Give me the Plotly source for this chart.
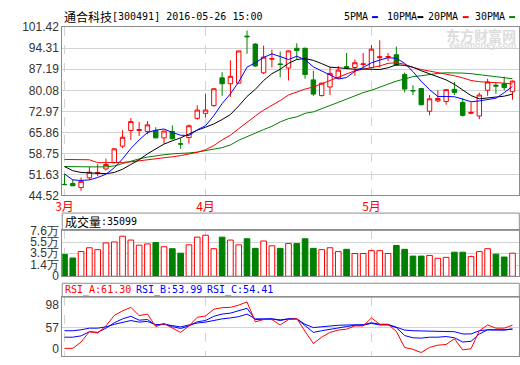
import plotly.graph_objects as go

# ---------------- data ----------------
dates = [
    "2016-03-09", "2016-03-10", "2016-03-11", "2016-03-14", "2016-03-15", "2016-03-16", "2016-03-17",
    "2016-03-18", "2016-03-21", "2016-03-22", "2016-03-23", "2016-03-24", "2016-03-25", "2016-03-28",
    "2016-03-29", "2016-03-30", "2016-03-31",
    "2016-04-01", "2016-04-05", "2016-04-06", "2016-04-07", "2016-04-08", "2016-04-11", "2016-04-12",
    "2016-04-13", "2016-04-14", "2016-04-15", "2016-04-18", "2016-04-19", "2016-04-20", "2016-04-21",
    "2016-04-22", "2016-04-25", "2016-04-26", "2016-04-27", "2016-04-28", "2016-04-29",
    "2016-05-03", "2016-05-04", "2016-05-05", "2016-05-06", "2016-05-09", "2016-05-10", "2016-05-11",
    "2016-05-12", "2016-05-13", "2016-05-16", "2016-05-17", "2016-05-18", "2016-05-19", "2016-05-20",
    "2016-05-23", "2016-05-24", "2016-05-25", "2016-05-26",
]
open_ = [48.3, 48.6, 47.2, 50.5, 52.0, 53.5, 55.6, 61.2, 66.5, 66.5, 66.2, 66.5, 64.0, 66.2, 62.0,
         64.1, 70.6, 72.3, 74.9, 84.3, 82.3, 82.5, 98.4, 95.7, 86.0, 90.6, 89.0, 87.6, 94.3, 94.3,
         83.6, 78.3, 81.2, 84.3, 88.1, 87.8, 88.8, 87.8, 91.1, 91.3, 92.1, 85.4, 80.0, 80.7, 73.0,
         76.5, 76.3, 80.4, 76.0, 72.3, 71.4, 80.1, 81.8, 82.3, 79.6]
high = [51.8, 49.9, 50.6, 54.2, 55.1, 57.0, 60.5, 66.6, 70.7, 69.4, 69.7, 67.6, 66.4, 68.2, 63.8,
        68.5, 75.0, 79.0, 80.8, 86.2, 90.2, 93.4, 100.3, 96.0, 95.2, 93.8, 93.2, 93.5, 96.0, 94.5,
        86.7, 82.6, 88.0, 88.3, 92.7, 90.5, 92.7, 95.4, 97.0, 92.7, 94.9, 86.1, 81.8, 80.9, 78.5,
        80.1, 80.5, 82.9, 77.4, 76.0, 79.3, 84.0, 82.8, 84.7, 83.4]
low = [48.0, 47.7, 46.1, 49.9, 51.0, 53.0, 55.3, 60.5, 63.3, 64.6, 65.2, 63.9, 62.0, 63.4, 60.3,
       62.1, 70.1, 70.9, 74.5, 78.2, 77.8, 82.4, 92.4, 88.0, 85.6, 87.8, 84.5, 83.4, 90.5, 84.0,
       78.2, 78.0, 78.5, 84.0, 87.2, 85.0, 87.8, 87.7, 87.8, 90.0, 88.3, 79.4, 78.5, 75.0, 71.6,
       76.0, 75.2, 78.5, 71.2, 72.0, 70.3, 78.2, 78.9, 80.1, 76.9]
close = [48.2, 47.8, 49.3, 52.4, 52.3, 55.0, 60.3, 64.2, 69.5, 66.8, 68.4, 64.0, 66.3, 63.7, 61.9,
         68.1, 73.4, 73.4, 80.6, 82.3, 84.8, 93.4, 98.2, 88.3, 91.3, 90.8, 88.8, 93.4, 93.5, 85.4,
         78.8, 82.5, 85.8, 86.9, 87.8, 89.4, 89.0, 94.0, 91.4, 91.5, 88.6, 80.5, 79.9, 75.2, 77.2,
         77.3, 80.3, 79.3, 71.6, 72.6, 78.5, 82.9, 81.5, 81.0, 83.2]

ma5 = [51.8, 49.8, 49.6, 49.8, 50.6, 51.7, 53.9, 56.9, 60.4, 63.3, 65.8, 66.6, 67.0, 65.8, 64.9,
       64.8, 66.7, 68.1, 71.5, 75.6, 78.9, 82.9, 87.9, 89.4, 91.2, 92.4, 91.5, 90.5, 91.6, 90.4,
       88.0, 86.7, 85.2, 83.9, 84.4, 86.5, 87.8, 89.4, 90.3, 91.1, 90.9, 89.2, 86.4, 83.1, 80.3,
       78.0, 78.0, 77.9, 77.1, 76.2, 76.5, 77.0, 77.4, 79.3, 81.4]
ma10 = [54.3, 52.9, 52.3, 52.1, 52.0, 51.9, 52.3, 53.4, 55.0, 56.6, 58.6, 60.2, 61.9, 63.0, 64.0,
        65.3, 66.6, 67.6, 68.7, 70.2, 71.9, 74.8, 78.0, 80.4, 83.4, 85.7, 87.2, 89.2, 90.5, 90.8,
        90.2, 89.1, 87.9, 87.7, 87.4, 87.2, 87.3, 87.3, 87.1, 87.7, 88.7, 88.5, 87.9, 86.7, 85.7,
        84.5, 83.6, 82.1, 80.1, 78.3, 77.2, 77.5, 77.6, 78.1, 78.8]
ma20 = [56.7, 56.7, 56.7, 56.6, 55.6, 55.6, 55.6, 55.7, 55.9, 56.2, 56.5, 56.9, 57.3, 57.6, 58.0,
        58.6, 59.1, 60.0, 61.4, 63.3, 64.9, 67.1, 69.4, 71.4, 73.4, 74.9, 76.6, 78.5, 79.6, 80.5,
        81.2, 82.3, 83.4, 84.5, 85.6, 86.7, 87.2, 87.8, 88.3, 89.2, 89.4, 88.9, 87.8, 87.1, 86.6,
        86.0, 85.6, 85.0, 84.3, 83.4, 83.0, 82.9, 82.6, 82.5, 82.2]
ma30 = [54.3, 54.2, 54.2, 54.2, 54.2, 54.2, 54.5, 55.3, 56.2, 56.9, 57.5, 58.0, 58.3, 58.6, 58.7,
        58.9, 59.2, 59.6, 60.2, 60.7, 61.6, 63.2, 64.3, 65.6, 66.8, 67.9, 69.4, 70.5, 71.1, 72.3,
        72.8, 73.8, 74.9, 76.0, 77.1, 78.2, 79.3, 80.1, 81.2, 82.3, 83.2, 83.9, 84.7, 85.0, 85.5,
        85.8, 86.0, 86.0, 85.9, 85.7, 85.4, 85.0, 84.8, 84.5, 84.0]

volume = [32900, 26600, 38050, 44900, 41500, 53550, 55300, 65600, 58700, 49500, 51800, 54100, 46700,
          43200, 35200, 50100, 63900, 67300, 43200, 63900, 58700, 50100, 61000, 43800, 57000, 48400,
          43800, 52400, 52400, 61000, 43800, 41500, 44900, 38050, 42100, 34600, 34600, 39800, 39800,
          34600, 49000, 42100, 30000, 30000, 31150, 26000, 27700, 36900, 36900, 29400, 38050, 43200,
          33450, 28300, 35099]

rsi_a = [18.8, 18.8, 30.5, 49.3, 47.0, 59.9, 79.2, 87.4, 93.9, 78.7, 81.6, 58.7, 64.0, 55.8, 48.1,
         59.9, 75.7, 78.1, 90.4, 93.3, 93.9, 98.0, 103.9, 67.5, 71.6, 71.6, 61.6, 71.6, 73.4, 49.9,
         27.6, 39.3, 48.1, 52.3, 54.0, 59.9, 59.9, 74.5, 62.8, 62.8, 49.9, 20.6, 17.0, 11.2, 20.6,
         24.7, 25.9, 36.4, 15.9, 18.2, 51.1, 61.6, 55.8, 55.8, 61.3]
rsi_b = [39.3, 39.3, 41.7, 49.3, 48.1, 55.8, 65.7, 72.8, 77.5, 70.4, 71.6, 61.1, 64.0, 58.7, 55.2,
         59.9, 67.5, 69.8, 77.5, 81.6, 83.3, 87.4, 92.1, 71.6, 72.8, 72.8, 69.8, 72.8, 72.8, 59.9,
         48.1, 51.1, 54.0, 56.9, 58.7, 61.1, 61.1, 64.6, 61.6, 61.6, 56.9, 42.3, 38.2, 37.6, 39.3,
         39.3, 40.5, 38.2, 30.5, 31.7, 45.2, 52.8, 52.3, 52.3, 53.99]
rsi_c = [51.1, 51.1, 52.8, 55.8, 55.8, 58.1, 62.8, 66.9, 69.8, 66.9, 68.1, 62.2, 62.8, 60.5, 58.1,
         61.6, 65.2, 66.9, 70.4, 72.8, 74.5, 76.9, 81.6, 72.8, 72.8, 72.8, 71.0, 72.8, 72.8, 62.8,
         56.9, 58.7, 59.9, 61.1, 61.6, 62.2, 62.2, 65.7, 62.8, 62.8, 58.1, 52.3, 51.1, 50.5, 49.9,
         49.9, 49.9, 49.3, 45.2, 45.2, 51.1, 52.8, 52.8, 52.8, 54.41]

price_ticks = [44.52, 51.63, 58.75, 65.86, 72.97, 80.08, 87.19, 94.31, 101.42]
month_ticks = ["2016-03-09", "2016-04-01", "2016-05-03"]
month_labels = ["3月", "4月", "5月"]
vol_floor = -6150
vol_ticks = [vol_floor, 14000, 35000, 55000, 76000]
vol_labels = ["0", "1.4万", "3.5万", "5.5万", "7.6万"]
rsi_ticks = [18.8, 57, 98]
rsi_labels = ["0", "57", "98"]

# ---------------- styling ----------------
W, H = 520, 365
RED, GREEN, BLUE, BLACK = "#ff0000", "#008000", "#0000ff", "#000000"
GRID = "#d3d3d3"
BORDER = "#8c8c8c"
CJK = "Noto Sans CJK SC"
MONO = "DejaVu Sans Mono"
TICKF = dict(family="Liberation Sans", size=12, color="#333333")


def px_x(x):
    return x / W


def px_y(y):
    return 1 - y / H


XL, XR = 56, 519.3
xdom = [px_x(XL), px_x(XR)]
main_dom = [px_y(196), px_y(21)]
vol_dom = [px_y(280), px_y(232.3)]
rsi_dom = [px_y(363.3), px_y(301.7)]

fig = go.Figure()

fig.add_trace(go.Candlestick(
    x=dates, open=open_, high=high, low=low, close=close,
    increasing=dict(line=dict(color=RED, width=1), fillcolor="#ffffff"),
    decreasing=dict(line=dict(color=GREEN, width=1), fillcolor=GREEN),
    whiskerwidth=0, xaxis="x", yaxis="y", showlegend=False, hoverinfo="skip",
))
for vals, col in [(ma30, GREEN), (ma20, RED), (ma10, BLACK), (ma5, BLUE)]:
    fig.add_trace(go.Scatter(x=dates, y=vals, mode="lines", line=dict(color=col, width=1),
                             xaxis="x", yaxis="y", showlegend=False, hoverinfo="skip"))

up = [c >= o for o, c in zip(open_, close)]
fig.add_trace(go.Bar(
    x=dates, y=[v - vol_floor for v in volume], base=vol_floor,
    marker=dict(color=["#ffffff" if u else GREEN for u in up],
                line=dict(color=[RED if u else GREEN for u in up], width=1)),
    xaxis="x2", yaxis="y2", showlegend=False, hoverinfo="skip",
))

for vals, col in [(rsi_c, BLUE), (rsi_b, BLUE), (rsi_a, RED)]:
    fig.add_trace(go.Scatter(x=dates, y=vals, mode="lines", line=dict(color=col, width=1),
                             xaxis="x3", yaxis="y3", showlegend=False, hoverinfo="skip"))

xcommon = dict(type="category", range=[-0.27, 54.82], domain=xdom, tickvals=month_ticks,
               showgrid=True, gridcolor=GRID, griddash="dash", gridwidth=1,
               showline=True, linecolor=BORDER, linewidth=1, mirror=True, ticks="",
               zeroline=False, fixedrange=True)

fig.update_layout(
    width=W, height=H, margin=dict(l=0, r=0, t=0, b=0),
    paper_bgcolor="#ffffff", plot_bgcolor="#ffffff",
    boxgap=0.24, bargap=0.32, showlegend=False,
    xaxis=dict(**xcommon, anchor="y", ticktext=month_labels,
               tickfont=dict(family=CJK, size=12, color=RED), rangeslider=dict(visible=False)),
    yaxis=dict(domain=main_dom, range=[44.52, 101.42], tickvals=price_ticks,
               ticktext=[f"{v:.2f}" for v in price_ticks], tickfont=TICKF,
               showgrid=True, gridcolor=GRID, showline=True, linecolor=BORDER, mirror=True,
               ticks="", zeroline=False, anchor="x", fixedrange=True),
    xaxis2=dict(**xcommon, anchor="y2", matches="x", showticklabels=False),
    yaxis2=dict(domain=vol_dom, range=[vol_floor, 76000], tickvals=vol_ticks, ticktext=vol_labels,
                tickfont=TICKF, showgrid=True, gridcolor=GRID, showline=True, linecolor=BORDER,
                mirror=True, ticks="", zeroline=False, anchor="x2", fixedrange=True),
    xaxis3=dict(**xcommon, anchor="y3", matches="x", showticklabels=False),
    yaxis3=dict(domain=rsi_dom, range=[4.2, 112.6], tickvals=rsi_ticks, ticktext=rsi_labels,
                tickfont=TICKF, showgrid=False, showline=True, linecolor=BORDER,
                mirror=True, ticks="", zeroline=False, anchor="x3", fixedrange=True),
)

# RSI middle reference line
fig.add_shape(type="line", xref="x3 domain", yref="y3", x0=0, x1=1, y0=57, y1=57,
              line=dict(color=GRID, width=1), layer="below")

# header boxes of the volume and RSI panels
for y0, y1 in [(232.3, 214.3), (301.7, 287.3)]:
    fig.add_shape(type="rect", xref="paper", yref="paper", x0=px_x(XL), x1=px_x(XR),
                  y0=px_y(y0), y1=px_y(y1), line=dict(color=BORDER, width=1))


def text(x, y, s, family, size, color="#000000", anchor="left", bold=False):
    fig.add_annotation(xref="paper", yref="paper", x=px_x(x), y=px_y(y), text=f"<b>{s}</b>" if bold else s,
                       showarrow=False, xanchor=anchor, yanchor="middle",
                       font=dict(family=family, size=size, color=color))


# title
text(56, 10, "通合科技", CJK, 12)
text(104, 10, "[300491] 2016-05-26 15:00", MONO, 10)

# MA legend
legend = [("5PMA", 340, BLUE, 370), ("10PMA", 383, BLACK, 416), ("20PMA", 425, RED, 462),
          ("30PMA", 472, GREEN, 509)]
for lab, x, col, dx in legend:
    text(x, 10, lab, MONO, 10)
    fig.add_shape(type="line", xref="paper", yref="paper", x0=px_x(dx), x1=px_x(dx + 6),
                  y0=px_y(10.5), y1=px_y(10.5), line=dict(color=col, width=2))

# watermark
text(518, 29, "东方财富网", CJK, 14, "#dcdcdc", anchor="right", bold=True)
text(518, 40, "eastmoney.com", "Liberation Sans", 9, "#dcdcdc", anchor="right", bold=True)

# panel headers
text(57, 223, "成交量", CJK, 12)
text(93, 223, ":35099", MONO, 10)
text(57, 294.5, "RSI_A:61.30", MONO, 10, RED)
text(129, 294.5, "RSI_B:53.99", MONO, 10, BLUE)
text(201, 294.5, "RSI_C:54.41", MONO, 10, BLUE)

fig.write_html("out.html", config={"displayModeBar": False, "staticPlot": True},
               post_script="document.body.style.margin='0';")
